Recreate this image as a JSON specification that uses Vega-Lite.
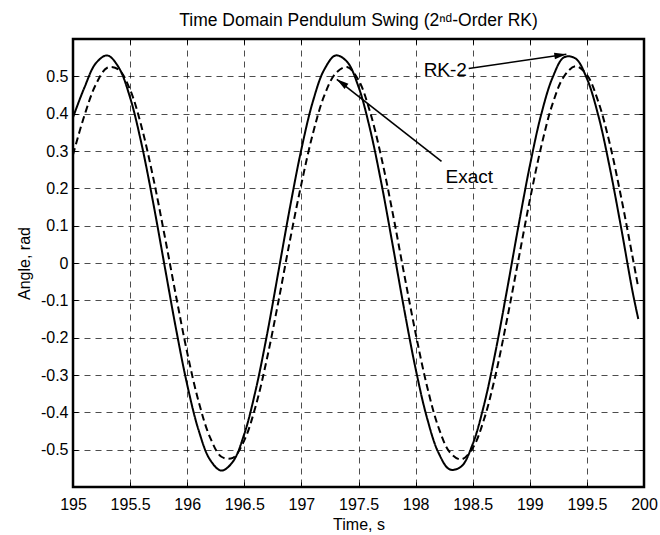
{
  "$schema": "https://vega.github.io/schema/vega-lite/v6.json",
  "autosize": {"type": "none"},
  "padding": {"left": 73, "top": 39, "right": 16, "bottom": 48},
  "width": 571,
  "height": 448,
  "config": {
    "font": "Liberation Sans",
    "view": {"stroke": "#000", "strokeWidth": 2.5},
    "axis": {"domain": false, "labelColor": "#000", "titleColor": "#000", "tickColor": "#000", "titleFontWeight": "normal", "labelFlush": false}
  },
  "title": {"text": "Time Domain Pendulum Swing (2ⁿᵈ-Order RK)", "fontSize": 17.5, "fontWeight": "normal", "color": "#000", "offset": 9},
  "datasets": {
    "curves": [
      {"t": 195.0, "angle": 0.39, "series": "RK-2"},
      {"t": 195.1, "angle": 0.47, "series": "RK-2"},
      {"t": 195.2, "angle": 0.535, "series": "RK-2"},
      {"t": 195.3, "angle": 0.556, "series": "RK-2"},
      {"t": 195.4, "angle": 0.524, "series": "RK-2"},
      {"t": 195.5, "angle": 0.443, "series": "RK-2"},
      {"t": 195.6, "angle": 0.319, "series": "RK-2"},
      {"t": 195.7, "angle": 0.165, "series": "RK-2"},
      {"t": 195.8, "angle": -0.004, "series": "RK-2"},
      {"t": 195.9, "angle": -0.173, "series": "RK-2"},
      {"t": 196.0, "angle": -0.326, "series": "RK-2"},
      {"t": 196.1, "angle": -0.448, "series": "RK-2"},
      {"t": 196.2, "angle": -0.527, "series": "RK-2"},
      {"t": 196.3, "angle": -0.556, "series": "RK-2"},
      {"t": 196.4, "angle": -0.532, "series": "RK-2"},
      {"t": 196.5, "angle": -0.458, "series": "RK-2"},
      {"t": 196.6, "angle": -0.34, "series": "RK-2"},
      {"t": 196.7, "angle": -0.19, "series": "RK-2"},
      {"t": 196.8, "angle": -0.021, "series": "RK-2"},
      {"t": 196.9, "angle": 0.149, "series": "RK-2"},
      {"t": 197.0, "angle": 0.305, "series": "RK-2"},
      {"t": 197.1, "angle": 0.432, "series": "RK-2"},
      {"t": 197.2, "angle": 0.518, "series": "RK-2"},
      {"t": 197.3, "angle": 0.556, "series": "RK-2"},
      {"t": 197.4, "angle": 0.539, "series": "RK-2"},
      {"t": 197.5, "angle": 0.472, "series": "RK-2"},
      {"t": 197.6, "angle": 0.36, "series": "RK-2"},
      {"t": 197.7, "angle": 0.214, "series": "RK-2"},
      {"t": 197.8, "angle": 0.047, "series": "RK-2"},
      {"t": 197.9, "angle": -0.124, "series": "RK-2"},
      {"t": 198.0, "angle": -0.283, "series": "RK-2"},
      {"t": 198.1, "angle": -0.415, "series": "RK-2"},
      {"t": 198.2, "angle": -0.508, "series": "RK-2"},
      {"t": 198.3, "angle": -0.553, "series": "RK-2"},
      {"t": 198.4, "angle": -0.545, "series": "RK-2"},
      {"t": 198.5, "angle": -0.485, "series": "RK-2"},
      {"t": 198.6, "angle": -0.379, "series": "RK-2"},
      {"t": 198.7, "angle": -0.237, "series": "RK-2"},
      {"t": 198.8, "angle": -0.073, "series": "RK-2"},
      {"t": 198.9, "angle": 0.098, "series": "RK-2"},
      {"t": 199.0, "angle": 0.26, "series": "RK-2"},
      {"t": 199.1, "angle": 0.398, "series": "RK-2"},
      {"t": 199.2, "angle": 0.497, "series": "RK-2"},
      {"t": 199.3, "angle": 0.551, "series": "RK-2"},
      {"t": 199.4, "angle": 0.548, "series": "RK-2"},
      {"t": 199.5, "angle": 0.494, "series": "RK-2"},
      {"t": 199.6, "angle": 0.395, "series": "RK-2"},
      {"t": 199.7, "angle": 0.256, "series": "RK-2"},
      {"t": 199.8, "angle": 0.094, "series": "RK-2"},
      {"t": 199.9, "angle": -0.077, "series": "RK-2"},
      {"t": 199.95, "angle": -0.15, "series": "RK-2"},
      {"t": 195.0, "angle": 0.29, "series": "Exact"},
      {"t": 195.1, "angle": 0.395, "series": "Exact"},
      {"t": 195.2, "angle": 0.478, "series": "Exact"},
      {"t": 195.3, "angle": 0.523, "series": "Exact"},
      {"t": 195.4, "angle": 0.518, "series": "Exact"},
      {"t": 195.5, "angle": 0.464, "series": "Exact"},
      {"t": 195.6, "angle": 0.365, "series": "Exact"},
      {"t": 195.7, "angle": 0.232, "series": "Exact"},
      {"t": 195.8, "angle": 0.077, "series": "Exact"},
      {"t": 195.9, "angle": -0.085, "series": "Exact"},
      {"t": 196.0, "angle": -0.24, "series": "Exact"},
      {"t": 196.1, "angle": -0.371, "series": "Exact"},
      {"t": 196.2, "angle": -0.467, "series": "Exact"},
      {"t": 196.3, "angle": -0.519, "series": "Exact"},
      {"t": 196.4, "angle": -0.522, "series": "Exact"},
      {"t": 196.5, "angle": -0.475, "series": "Exact"},
      {"t": 196.6, "angle": -0.383, "series": "Exact"},
      {"t": 196.7, "angle": -0.254, "series": "Exact"},
      {"t": 196.8, "angle": -0.101, "series": "Exact"},
      {"t": 196.9, "angle": 0.061, "series": "Exact"},
      {"t": 197.0, "angle": 0.212, "series": "Exact"},
      {"t": 197.1, "angle": 0.346, "series": "Exact"},
      {"t": 197.2, "angle": 0.448, "series": "Exact"},
      {"t": 197.3, "angle": 0.508, "series": "Exact"},
      {"t": 197.4, "angle": 0.525, "series": "Exact"},
      {"t": 197.5, "angle": 0.49, "series": "Exact"},
      {"t": 197.6, "angle": 0.406, "series": "Exact"},
      {"t": 197.7, "angle": 0.283, "series": "Exact"},
      {"t": 197.8, "angle": 0.133, "series": "Exact"},
      {"t": 197.9, "angle": -0.03, "series": "Exact"},
      {"t": 198.0, "angle": -0.188, "series": "Exact"},
      {"t": 198.1, "angle": -0.33, "series": "Exact"},
      {"t": 198.2, "angle": -0.44, "series": "Exact"},
      {"t": 198.3, "angle": -0.507, "series": "Exact"},
      {"t": 198.4, "angle": -0.526, "series": "Exact"},
      {"t": 198.5, "angle": -0.496, "series": "Exact"},
      {"t": 198.6, "angle": -0.418, "series": "Exact"},
      {"t": 198.7, "angle": -0.3, "series": "Exact"},
      {"t": 198.8, "angle": -0.152, "series": "Exact"},
      {"t": 198.9, "angle": 0.008, "series": "Exact"},
      {"t": 199.0, "angle": 0.168, "series": "Exact"},
      {"t": 199.1, "angle": 0.312, "series": "Exact"},
      {"t": 199.2, "angle": 0.427, "series": "Exact"},
      {"t": 199.3, "angle": 0.5, "series": "Exact"},
      {"t": 199.4, "angle": 0.527, "series": "Exact"},
      {"t": 199.5, "angle": 0.504, "series": "Exact"},
      {"t": 199.6, "angle": 0.432, "series": "Exact"},
      {"t": 199.7, "angle": 0.32, "series": "Exact"},
      {"t": 199.8, "angle": 0.176, "series": "Exact"},
      {"t": 199.9, "angle": 0.016, "series": "Exact"},
      {"t": 199.95, "angle": -0.066, "series": "Exact"}
    ],
    "notes": [
      {"label": "RK-2", "tx": 198.26, "ty": 0.516, "t": 198.465, "v": 0.521, "t2": 199.32, "v2": 0.559},
      {"label": "Exact", "tx": 198.47, "ty": 0.23, "t": 198.227, "v": 0.272, "t2": 197.31, "v2": 0.492}
    ]
  },
  "resolve": {"scale": {"x": "shared", "y": "shared"}, "axis": {"x": "independent", "y": "independent"}},
  "layer": [
    {
      "data": {"name": "curves"},
      "mark": {"type": "line", "color": "#000", "strokeWidth": 2, "interpolate": "catmull-rom", "clip": true},
      "encoding": {
        "x": {"field": "t", "type": "quantitative", "scale": {"domain": [195, 200], "nice": false, "zero": false},
          "axis": {"orient": "bottom", "values": [195, 195.5, 196, 196.5, 197, 197.5, 198, 198.5, 199, 199.5, 200], "format": "~g",
            "grid": true, "gridColor": "#000", "gridDash": [6, 5], "gridWidth": 0.7, "gridOpacity": 1,
            "ticks": true, "tickSize": -5, "tickWidth": 1, "labelFontSize": 16, "labelPadding": 14,
            "title": "Time, s", "titleFontSize": 16, "titlePadding": 4}},
        "y": {"field": "angle", "type": "quantitative", "scale": {"domain": [-0.6, 0.6], "nice": false, "zero": false},
          "axis": {"orient": "left", "values": [-0.5, -0.4, -0.3, -0.2, -0.1, 0, 0.1, 0.2, 0.3, 0.4, 0.5], "format": "~g",
            "labelExpr": "replace(datum.label, '−', '-')",
            "grid": true, "gridColor": "#000", "gridDash": [6, 5], "gridWidth": 0.7, "gridOpacity": 1,
            "ticks": true, "tickSize": -5, "tickWidth": 1, "labelFontSize": 16, "labelPadding": 10,
            "title": "Angle, rad", "titleFontSize": 16, "titlePadding": 8}},
        "strokeDash": {"field": "series", "type": "nominal", "scale": {"domain": ["RK-2", "Exact"], "range": [[1, 0], [7, 4]]}, "legend": null}
      }
    },
    {
      "data": {"name": "notes"},
      "mark": {"type": "rule", "color": "#000", "strokeWidth": 1.6},
      "encoding": {
        "x": {"field": "t", "type": "quantitative",
          "axis": {"orient": "top", "values": [195, 195.5, 196, 196.5, 197, 197.5, 198, 198.5, 199, 199.5, 200], "labels": false, "grid": false, "ticks": true, "tickSize": -5, "tickWidth": 1, "title": null}},
        "y": {"field": "v", "type": "quantitative",
          "axis": {"orient": "right", "values": [-0.5, -0.4, -0.3, -0.2, -0.1, 0, 0.1, 0.2, 0.3, 0.4, 0.5], "labels": false, "grid": false, "ticks": true, "tickSize": -5, "tickWidth": 1, "title": null}},
        "x2": {"field": "t2"},
        "y2": {"field": "v2"}
      }
    },
    {
      "data": {"name": "notes"},
      "transform": [{"filter": "datum.label === 'RK-2'"}],
      "mark": {"type": "point", "shape": "M0,0L-0.55,2L0.55,2Z", "size": 144, "angle": 82, "filled": true, "color": "#000", "opacity": 1, "strokeWidth": 0},
      "encoding": {
        "x": {"field": "t2", "type": "quantitative", "axis": null},
        "y": {"field": "v2", "type": "quantitative", "axis": null}
      }
    },
    {
      "data": {"name": "notes"},
      "transform": [{"filter": "datum.label === 'Exact'"}],
      "mark": {"type": "point", "shape": "M0,0L-0.55,2L0.55,2Z", "size": 144, "angle": -54, "filled": true, "color": "#000", "opacity": 1, "strokeWidth": 0},
      "encoding": {
        "x": {"field": "t2", "type": "quantitative", "axis": null},
        "y": {"field": "v2", "type": "quantitative", "axis": null}
      }
    },
    {
      "data": {"name": "notes"},
      "mark": {"type": "text", "fontSize": 19, "color": "#000", "align": "center", "baseline": "middle"},
      "encoding": {
        "x": {"field": "tx", "type": "quantitative", "axis": null},
        "y": {"field": "ty", "type": "quantitative", "axis": null},
        "text": {"field": "label", "type": "nominal"}
      }
    }
  ]
}
